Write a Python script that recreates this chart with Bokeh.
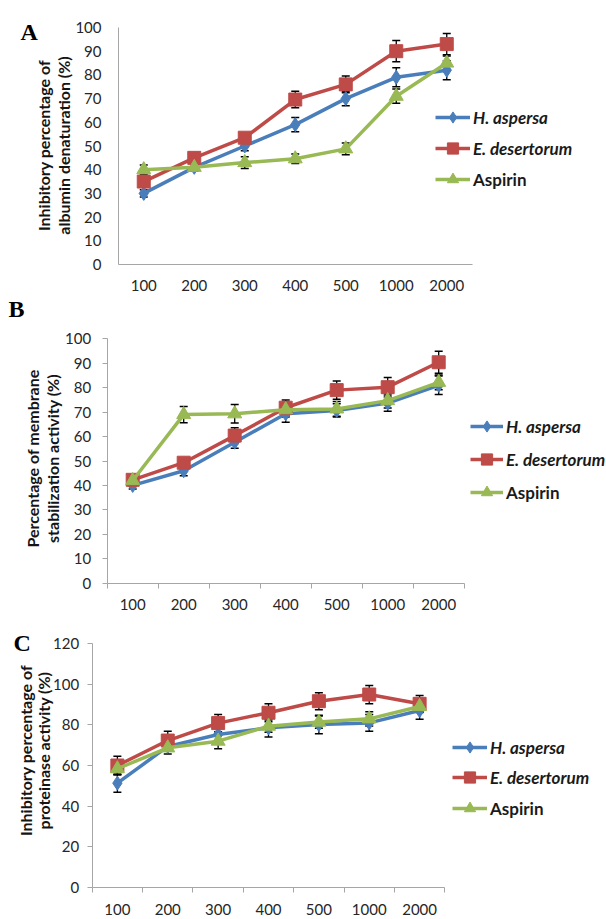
import numpy as np
from bokeh.plotting import figure
from bokeh.models import (Range1d, FixedTicker, Whisker, TeeHead, ColumnDataSource,
                          Legend, LegendItem, Label)
from bokeh.layouts import column
from bokeh.embed import file_html
from bokeh.resources import INLINE

# ---------------- data ----------------
concentrations = ["100", "200", "300", "400", "500", "1000", "2000"]
series_names = ["H. aspersa", "E. desertorum", "Aspirin"]

# Panel A: albumin denaturation
a_haspersa = [30, 41, 50, 59, 70, 79, 82]
a_haspersa_err = [1.5, 1.5, 2, 3, 3, 4, 4]
a_edesertorum = [35, 45, 53.5, 69.6, 76, 90, 93]
a_edesertorum_err = [2, 1.5, 2, 3.5, 3.5, 4.5, 4.5]
a_aspirin = [40, 41, 43, 44.6, 48.8, 71, 85]
a_aspirin_err = [2, 1.5, 2.5, 2, 2.5, 3, 3]

# Panel B: membrane stabilization
b_haspersa = [40, 46, 57.7, 69.3, 70.7, 73.7, 81]
b_haspersa_err = [1.5, 2, 2.5, 3.4, 2.7, 3.3, 3.8]
b_edesertorum = [42.3, 49.3, 60.4, 71.8, 79, 80.2, 90.4]
b_edesertorum_err = [1.5, 2, 3.2, 3.2, 3.7, 4, 4.5]
b_aspirin = [42, 69, 69.3, 71, 71.3, 74.7, 82.2]
b_aspirin_err = [2, 3.3, 3.8, 3, 3, 3, 3]

# Panel C: proteinase activity
c_haspersa = [51.3, 69.4, 75.3, 78.6, 80.2, 81, 87.1]
c_haspersa_err = [4.5, 2, 3, 4.6, 4.6, 4.1, 4.3]
c_edesertorum = [60, 72.3, 80.9, 86, 91.7, 95, 90.4]
c_edesertorum_err = [4.6, 4.6, 4.3, 4.4, 4.2, 4.5, 4.1]
c_aspirin = [58.4, 68.7, 72, 79.4, 81.4, 83, 89.1]
c_aspirin_err = [3, 3, 3.8, 3, 3, 3.5, 3]

colors = ["#4A7EBB", "#BE4B48", "#98B954"]
markers = ["diamond", "square", "triangle"]
marker_sizes = [14, 13, 14]

AXIS_GRAY = "#A6A6A6"
TEXT_COL = "#262626"
FONT = "Lato"
W = 606


def make_panel(letter, title_lines, values, errors, ymax, ystep, ticks,
               height, frame_px, letter_pos, title_pos, legend_cfg,
               x_standoff, y_standoff):
    # frame_px: pixel positions (in this figure) of x=0, x=n, y=0, y=ymax
    n = len(concentrations)
    px0, pxn, py0, pytop = frame_px
    sx = (pxn - px0) / n
    sy = (py0 - pytop) / ymax
    x_range = Range1d(-px0 / sx, (W - px0) / sx)
    y_range = Range1d(-(height - py0) / sy, py0 / sy)
    xs = [i + 0.5 for i in range(n)]
    p = figure(width=W, height=height, x_range=x_range, y_range=y_range,
               output_backend="svg", toolbar_location=None,
               min_border_left=0, min_border_right=0,
               min_border_top=0, min_border_bottom=0)
    p.outline_line_color = None
    p.xgrid.visible = False
    p.ygrid.visible = False

    # x axis
    xa = p.xaxis[0]
    xa.fixed_location = 0
    xa.bounds = (0, n)
    xa.ticker = FixedTicker(ticks=xs, minor_ticks=list(range(n + 1)))
    xa.major_label_overrides = {x: c for x, c in zip(xs, concentrations)}
    xa.major_tick_line_color = None
    xa.major_tick_out = 0
    xa.major_tick_in = 0
    xa.minor_tick_line_color = AXIS_GRAY if ticks else None
    xa.minor_tick_out = 5 if ticks else 0
    xa.minor_tick_in = 0
    xa.axis_line_color = AXIS_GRAY
    xa.major_label_text_font = FONT
    xa.major_label_text_font_size = "15px"
    xa.major_label_text_color = TEXT_COL
    xa.major_label_standoff = x_standoff

    # y axis
    ya = p.yaxis[0]
    ya.fixed_location = 0
    ya.bounds = (0, ymax)
    ya.ticker = FixedTicker(ticks=list(range(0, ymax + 1, ystep)))
    ya.major_tick_line_color = AXIS_GRAY if ticks else None
    ya.major_tick_out = 5 if ticks else 0
    ya.major_tick_in = 0
    ya.minor_tick_line_color = None
    ya.axis_line_color = AXIS_GRAY
    ya.major_label_text_font = FONT
    ya.major_label_text_font_size = "15px"
    ya.major_label_text_color = TEXT_COL
    ya.major_label_standoff = y_standoff

    items = []
    for name, vals, errs, col, mk, ms in zip(series_names, values, errors,
                                             colors, markers, marker_sizes):
        src = ColumnDataSource(dict(x=xs, y=vals,
                                    lo=[v - e for v, e in zip(vals, errs)],
                                    hi=[v + e for v, e in zip(vals, errs)]))
        lr = p.line("x", "y", source=src, line_color=col, line_width=3.5)
        sr = p.scatter("x", "y", source=src, marker=mk, size=ms,
                       fill_color=col, line_color=col)
        items.append((name, lr, sr, src))

    for name, lr, sr, src in items:
        w = Whisker(source=src, base="x", upper="hi", lower="lo",
                    line_color="black", line_width=1.3,
                    upper_head=TeeHead(size=8, line_color="black", line_width=1.5),
                    lower_head=TeeHead(size=8, line_color="black", line_width=1.5))
        p.add_layout(w)

    vx, vy1, vy2, gw, spacing = legend_cfg
    common = dict(glyph_width=gw, glyph_height=28, label_height=28, spacing=spacing,
                  padding=0, margin=0, label_standoff=3,
                  border_line_color=None, background_fill_alpha=0,
                  label_text_font=FONT, label_text_font_size="17px",
                  label_text_color="#1a1a1a")
    leg1 = Legend(items=[LegendItem(label=it[0], renderers=[it[1], it[2]]) for it in items[:2]],
                  location=(vx, vy1), label_text_font_style="bold italic", **common)
    leg2 = Legend(items=[LegendItem(label=items[2][0], renderers=[items[2][1], items[2][2]])],
                  location=(vx, vy2), label_text_font_style="bold", **common)
    p.add_layout(leg1)
    p.add_layout(leg2)

    lx, ly = letter_pos
    p.add_layout(Label(x=lx, y=height - ly, x_units="screen", y_units="screen", text=letter,
                       text_font="Liberation Serif", text_font_style="bold",
                       text_font_size="24px", text_color="black",
                       text_align="left", text_baseline="alphabetic"))
    (tx1, tx2, ty) = title_pos
    for tx, line in zip((tx1, tx2), title_lines):
        p.add_layout(Label(x=tx, y=height - ty, x_units="screen", y_units="screen", text=line,
                           angle=np.pi / 2, text_font=FONT, text_font_style="bold",
                           text_font_size="16px", text_color="#141414",
                           text_align="center", text_baseline="middle"))
    return p


# positions below are pixel positions inside each figure (top-left origin)
HA, HB, HC = 294, 328, 297

pa = make_panel("A", ["Inhibitory percentage of", "albumin denaturation (%)"],
                [a_haspersa, a_edesertorum, a_aspirin],
                [a_haspersa_err, a_edesertorum_err, a_aspirin_err],
                100, 10, False, HA, (118, 471.5, 264, 27),
                (20, 31), (43, 63, 145), (435, HA - 162, HA - 193, 35, 3),
                x_standoff=15, y_standoff=17)

pb = make_panel("B", ["Percentage of membrane", "stabilization activity (%)"],
                [b_haspersa, b_edesertorum, b_aspirin],
                [b_haspersa_err, b_edesertorum_err, b_aspirin_err],
                100, 10, True, HB, (106.7, 463.7, 288.7, 44.3),
                (8, 14), (32, 52, 164), (470, HB - 179, HB - 212, 33, 5),
                x_standoff=11, y_standoff=11)

pc = make_panel("C", ["Inhibitory percentage of", "proteinase activity (%)"],
                [c_haspersa, c_edesertorum, c_aspirin],
                [c_haspersa_err, c_edesertorum_err, c_aspirin_err],
                120, 20, True, HC, (91.7, 444.3, 264.7, 21.3),
                (13, 20), (25, 43, 128), (452, HC - 169, HC - 200, 35, 2),
                x_standoff=12, y_standoff=8)

layout = column(pa, pb, pc, spacing=0)
open("out.html", "w").write(file_html(layout, INLINE))
